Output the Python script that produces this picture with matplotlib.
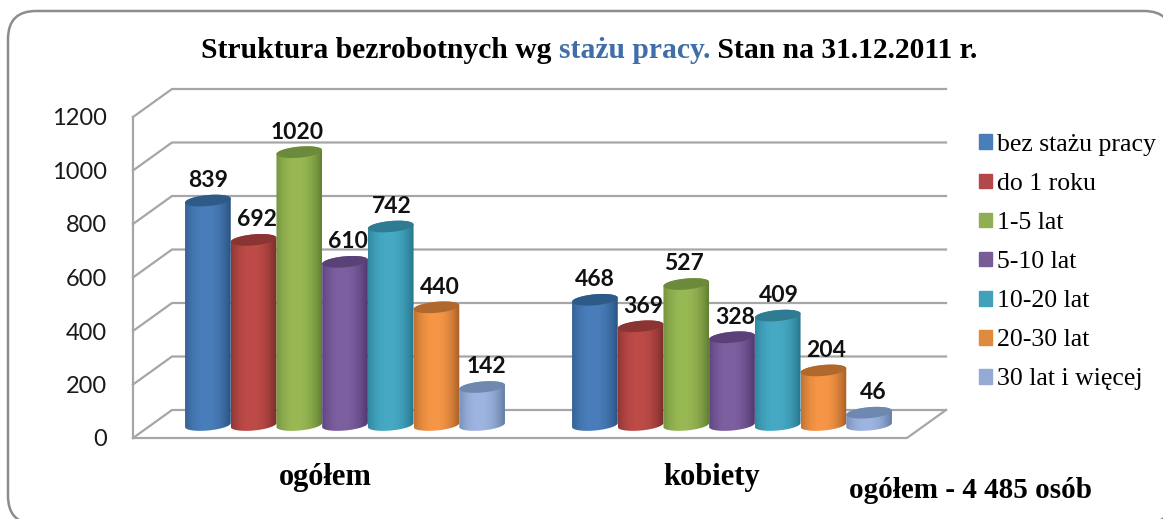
import matplotlib
matplotlib.use("Agg")
import matplotlib.pyplot as plt
import matplotlib.patches as mpatches
from matplotlib.colors import to_rgb
import numpy as np

# Data
CATEGORIES = ["ogółem", "kobiety"]
SERIES = [
    "bez stażu pracy",
    "do 1 roku",
    "1-5 lat",
    "5-10 lat",
    "10-20 lat",
    "20-30 lat",
    "30 lat i więcej",
]
VALUES = [
    [839, 468],
    [692, 369],
    [1020, 527],
    [610, 328],
    [742, 409],
    [440, 204],
    [142, 46],
]
Y_TICKS = [0, 200, 400, 600, 800, 1000, 1200]

# Colours: body, edge of the body, top of the cylinder
BODY = ["#4A7EBB", "#BE4B48", "#98B954", "#7D60A0", "#46AAC5", "#F79646", "#9DB5E0"]
EDGE = ["#2F5B8C", "#863230", "#6C8A3A", "#573F78", "#2C7F96", "#B4692C", "#7088B0"]
TOP = ["#2E5A88", "#8A3533", "#6B8A3B", "#5A4278", "#2F7C92", "#B0682C", "#6F88B0"]
LEGEND_COLORS = ["#4A7EBB", "#B4474A", "#8FAF52", "#775C96", "#42A0BA", "#E08A3E", "#94A9D5"]
GRID_COLOR = "#A6A6A6"

# Layout, in pixels of the 1163x519 picture
W, H = 1163, 519
BASE_Y = 425
PX_PER_UNIT = 0.2675
GROUP_X = 345
GROUP_PITCH = 387
BAR_PX = 45.7
FRONT_X, BACK_X, RIGHT_FRONT_X, RIGHT_BACK_X = 133, 172, 907, 946
FRONT_Y, BACK_Y = 438, 410
LABEL_NUDGE = [0, 3, -2, 3, 1, 3, 4]

plt.rcParams["font.family"] = ["Lato", "DejaVu Sans"]
SERIF = ["Liberation Serif", "DejaVu Serif"]

fig = plt.figure(figsize=(W / 100, H / 100), dpi=100)
ax = fig.add_axes([0, 0, 1, 1])
ax.set_xlim(-GROUP_X / GROUP_PITCH, (W - GROUP_X) / GROUP_PITCH)
ax.set_ylim((BASE_Y - H) / PX_PER_UNIT, BASE_Y / PX_PER_UNIT)
ax.axis("off")


def px(x):
    return (x - GROUP_X) / GROUP_PITCH


def py(y):
    return (BASE_Y - y) / PX_PER_UNIT


def ellipse_y(t):
    # slightly tilted, right side higher
    return (5.5 * np.sin(t) + 2.0 * np.cos(t)) / PX_PER_UNIT


def draw_cylinder(xc, value, i):
    half = BAR_PX / 2 / GROUP_PITCH
    t = np.linspace(0, 2 * np.pi, 80)
    lower = t[t >= np.pi]
    upper = t[t <= np.pi]
    verts = np.column_stack(
        [
            xc + half * np.r_[np.cos(lower), np.cos(upper)],
            np.r_[ellipse_y(lower), value + ellipse_y(upper)],
        ]
    )
    body = mpatches.Polygon(verts, closed=True, fc="none", ec="none", zorder=3 + i)
    ax.add_patch(body)

    # horizontal shading of the body
    s = np.linspace(-1, 1, 64)
    k = np.abs(s + 0.1) ** 2.2
    c0, c1 = np.array(to_rgb(BODY[i])), np.array(to_rgb(EDGE[i]))
    grad = (c0 * (1 - k[:, None]) + c1 * k[:, None])[None, :, :].clip(0, 1)
    im = ax.imshow(
        grad,
        extent=[xc - half, xc + half, -40, value + 40],
        aspect="auto",
        zorder=3 + i,
        interpolation="bilinear",
    )
    im.set_clip_path(body)
    ax.add_patch(
        mpatches.Polygon(
            np.column_stack([xc + half * np.cos(t), value + ellipse_y(t)]),
            closed=True,
            fc=TOP[i],
            ec="none",
            zorder=3 + i,
        )
    )


# Frame runs off the picture on the right and at the bottom
frame_ax = fig.add_axes([0, 0, 1, 1], zorder=-1)
frame_ax.set_xlim(0, W)
frame_ax.set_ylim(H, 0)
frame_ax.axis("off")
frame_ax.add_patch(
    mpatches.FancyBboxPatch(
        (36, 39),
        1108,
        457,
        boxstyle="round,pad=28,rounding_size=28",
        fc="white",
        ec="#8C8C8C",
        lw=1.8,
    )
)

# Walls and gridlines
front0, back0 = py(FRONT_Y), py(BACK_Y)
ax.plot([px(FRONT_X)] * 2, [front0, 1200 + front0], color=GRID_COLOR, lw=1.6, zorder=1)
ax.plot(
    [px(FRONT_X), px(RIGHT_FRONT_X), px(RIGHT_BACK_X)],
    [front0, front0, back0],
    color=GRID_COLOR,
    lw=1.6,
    zorder=1,
)
for v in Y_TICKS:
    ax.plot(
        [px(FRONT_X), px(BACK_X), px(RIGHT_BACK_X)],
        [v + front0, v + back0, v + back0],
        color=GRID_COLOR,
        lw=1.6,
        zorder=1,
    )
    ax.text(px(107), v + py(FRONT_Y + 2), str(v), ha="right", va="center", fontsize=17, color="#1a1a1a")

# Cylinders and value labels
for i, vals in enumerate(VALUES):
    for j, v in enumerate(vals):
        xc = j + (i - 3) * BAR_PX / GROUP_PITCH
        draw_cylinder(xc, v, i)
        ax.annotate(
            str(v),
            (xc, v),
            xytext=(LABEL_NUDGE[i] * 0.72, 14.5),
            textcoords="offset points",
            ha="center",
            va="center",
            fontsize=16.5,
            fontweight="bold",
            color="#111111",
            zorder=20,
        )

# Category labels
for j, name in enumerate(CATEGORIES):
    ax.text(j + px(325), py(478), name, ha="center", va="center", family=SERIF, fontweight="bold", fontsize=22)
ax.text(px(970), py(491), "ogółem - 4 485 osób", ha="center", va="center", family=SERIF, fontweight="bold", fontsize=21)

# Title, three coloured pieces
title_kw = dict(family=SERIF, fontweight="bold", fontsize=21.35, va="bottom")
t1 = ax.text(px(201), py(64), "Struktura bezrobotnych wg ", color="black", **title_kw)
t2 = ax.annotate("stażu pracy.", xy=(1, 0), xycoords=t1, color="#3F6EA8", ha="left", **title_kw)
t3 = ax.annotate(" Stan na 31.12.2011 r.", xy=(1, 0), xycoords=t2, color="black", ha="left", **title_kw)

# Legend
handles = [mpatches.Patch(color=c, label=s) for c, s in zip(LEGEND_COLORS, SERIES)]
fig.legend(
    handles=handles,
    loc="upper left",
    bbox_to_anchor=(979 / W, 1 - 134 / H),
    frameon=False,
    handlelength=0.51,
    handleheight=0.51,
    handletextpad=0.2,
    labelspacing=0.664,
    borderpad=0,
    borderaxespad=0,
    prop={"family": SERIF, "size": 18.5},
)

fig.savefig("out.png", dpi=100)
